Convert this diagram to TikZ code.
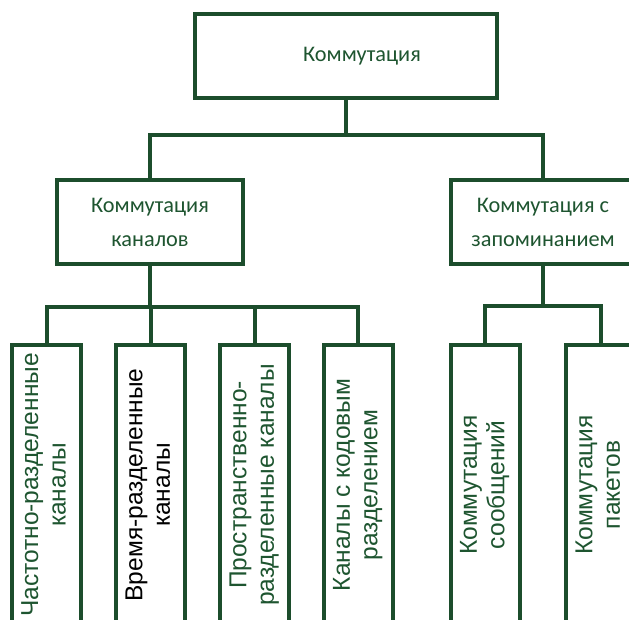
\documentclass[tikz,border=0pt]{standalone}
\usepackage{fontspec}
\setmainfont{Carlito}
\newfontfamily\leaffont{Liberation Sans}
\definecolor{treegreen}{HTML}{1C4D2C}
\definecolor{labelgreen}{HTML}{1E5530}
\tikzset{
  x=1pt, y=1pt,
  wire/.style={draw=treegreen, line width=4pt, line join=miter},
  headbox/.style={wire, rectangle, fill=white, text=labelgreen, align=center,
    minimum height=84pt, inner sep=0pt,
    font=\fontsize{22.3}{34}\selectfont},
  leafbox/.style={wire, rectangle, fill=white, text=labelgreen,
    minimum width=69pt, minimum height=280pt, inner sep=0pt,
    font=\leaffont\fontsize{24.5}{27.5}\selectfont},
}
\newcommand{\upright}[2]{\rotatebox{90}{\begin{tabular}{@{}c@{}}#1\\#2\end{tabular}}}
\begin{document}
\begin{tikzpicture}
\useasboundingbox (0,0) rectangle (629,-620);
\clip (0,0) rectangle (629,-620);
\fill[white] (0,0) rectangle (629,-620);

% root and the two branches
\node[headbox, minimum width=302pt] (root) at (346,-56) {};
\node[text=labelgreen, font=\fontsize{22.3}{34}\selectfont] (rootlabel) at (362,-56) {Коммутация};
\node[headbox, minimum width=186pt] (circ) at (150,-222) {Коммутация\\каналов};
\node[headbox, minimum width=184pt] (store) at (543,-222) {Коммутация с\\запоминанием};

% leaves
\node[leafbox] (l1) at (46.5,-485) {\upright{Частотно-разделенные}{каналы}};
\node[leafbox, text=black] (l2) at (150.5,-485) {\upright{Время-разделенные}{каналы}};
\node[leafbox] (l3) at (254.5,-485) {\upright{Пространственно-}{разделенные каналы}};
\node[leafbox] (l4) at (358,-485) {\upright{Каналы с кодовым}{разделением}};
\node[leafbox] (l5) at (485,-485) {\upright{Коммутация}{сообщений}};
\node[leafbox] (l6) at (600.5,-485) {\upright{Коммутация}{пакетов}};

% bus junctions
\coordinate (busA) at (root.south |- 0,-135);
\coordinate (busB) at (circ.south |- 0,-307);
\coordinate (busC) at (store.south |- 0,-306);

% connectors
\draw[wire] (root.south) -- (busA);
\draw[wire] (circ.north) |- (busA) -| (store.north);
\draw[wire] (circ.south) -- (busB);
\draw[wire] (l1.north) |- (busB) -| (l4.north);
\draw[wire] (l2.north) -- (l2.north |- busB);
\draw[wire] (l3.north) -- (l3.north |- busB);
\draw[wire] (store.south) -- (busC);
\draw[wire] (l5.north) |- (busC) -| (l6.north);
\end{tikzpicture}
\end{document}
